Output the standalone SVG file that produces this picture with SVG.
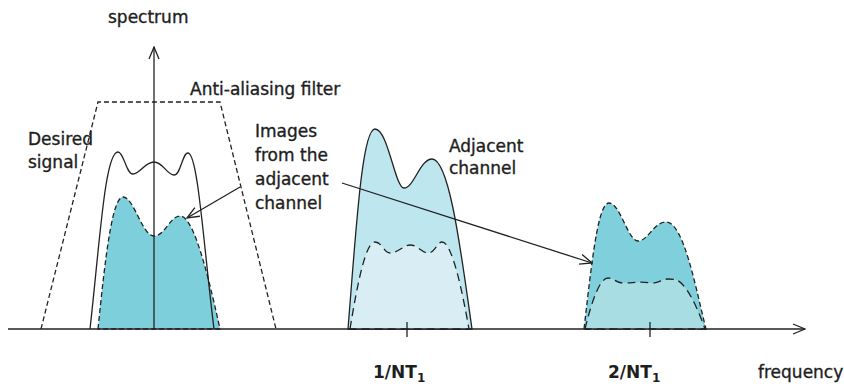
<svg xmlns="http://www.w3.org/2000/svg" width="844" height="387" viewBox="0 0 844 387">
<defs>
<marker id="ah" markerUnits="userSpaceOnUse" markerWidth="14" markerHeight="12" refX="13" refY="6" orient="auto">
<path d="M1,1 L13,6 L1,11" fill="none" stroke="#222" stroke-width="1.3"/>
</marker>
</defs>
<style>
text{font-family:"DejaVu Sans","Liberation Sans",sans-serif;font-size:17px;fill:#1e1e1e;stroke:#1e1e1e;stroke-width:0.35}
.b{font-weight:bold;stroke-width:0}
.ln{fill:none;stroke:#222;stroke-width:1.3}
.d{stroke:#222;stroke-width:1.3;stroke-dasharray:5,3}
.dl{stroke:#222;stroke-width:1.3;stroke-dasharray:8,5}
</style>
<rect width="844" height="387" fill="#fff"/>
<g id="desired-image">
<path d="M98,329 C105,260 112,197 123,197 C134,197 142,236 154,236 C165,236 170,216 180,216 C192,216 205,260 220,329 Z" fill="#7dcfdc" class="d"/>
</g>
<g id="adjacent-channel">
<path d="M348,329 C356,230 362,129 375,129 C388,129 395,188 404,188 C414,188 420,159 432,159 C450,159 462,260 472,329 Z" fill="#bde6ef" stroke="#222" stroke-width="1.3"/>
<path d="M350,329 C358,280 366,242 375,242 C382,242 384,253 390,253 C398,253 404,245 410,245 C418,245 422,253 428,253 C435,253 437,242 442,242 C452,242 462,290 469,329 Z" fill="#d8eef4" class="dl"/>
</g>
<g id="image-channel-2">
<path d="M584,329 C592,260 598,203 609,203 C620,203 628,241 638,241 C648,241 654,222 666,222 C684,222 696,290 706,329 Z" fill="#7fd0dc" class="d"/>
<path d="M585,329 C592,300 600,278 608,278 C614,278 616,283 623,283 C633,283 640,281 650,283 C658,284 662,279 668,279 C674,279 678,279 683,285 C692,295 700,315 705,329 Z" fill="#a9dde4" class="dl"/>
</g>
<g id="desired-signal">
<path d="M90,329 C100,240 105,152 118,152 C124,152 126,174 133,174 C140,174 145,162 154,162 C163,162 167,175 174,175 C181,175 182,153 188,153 C198,153 204,250 214,329" class="ln"/>
</g>
<g id="filter">
<path d="M41,329 L98,102 L220,102 L276,329" fill="none" class="d"/>
</g>
<g id="axes">
<line x1="8" y1="329" x2="805" y2="329" class="ln" marker-end="url(#ah)"/>
<line x1="154" y1="329" x2="154" y2="47" class="ln" marker-end="url(#ah)"/>
<line x1="407" y1="322" x2="407" y2="337" class="ln"/>
<line x1="650" y1="322" x2="650" y2="337" class="ln"/>
</g>
<g id="connectors">
<line x1="240" y1="187" x2="187" y2="218" class="ln" marker-end="url(#ah)"/>
<line x1="342" y1="183" x2="592" y2="263" class="ln" marker-end="url(#ah)"/>
</g>
<g id="labels">
<text x="108" y="23">spectrum</text>
<text x="190" y="95">Anti-aliasing filter</text>
<text x="28" y="145">Desired</text>
<text x="28" y="168">signal</text>
<text x="255" y="137">Images</text>
<text x="255" y="161">from the</text>
<text x="255" y="185">adjacent</text>
<text x="255" y="209">channel</text>
<text x="449" y="152">Adjacent</text>
<text x="449" y="174">channel</text>
<text x="373" y="378" class="b">1/NT<tspan font-size="12" dy="4">1</tspan></text>
<text x="608" y="378" class="b">2/NT<tspan font-size="12" dy="4">1</tspan></text>
<text x="758" y="378">frequency</text>
</g>
</svg>
